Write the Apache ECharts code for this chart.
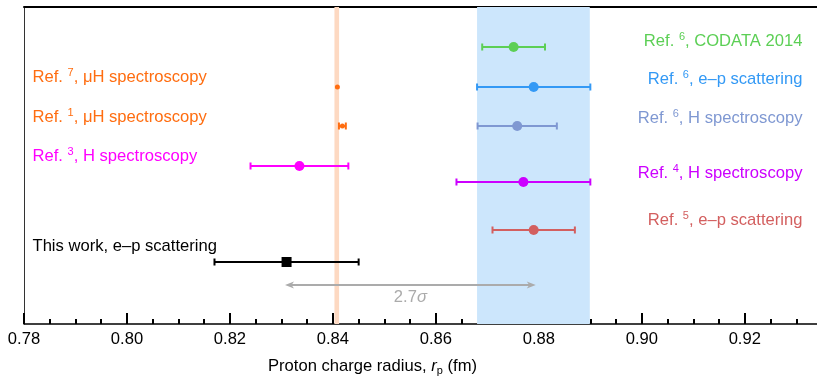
<!DOCTYPE html>
<html><head><meta charset="utf-8">
<script src="https://cdn.jsdelivr.net/npm/echarts@6/dist/echarts.min.js"></script>
<style>html,body{margin:0;padding:0;background:#fff}#c{width:817px;height:378px}</style>
</head><body><div id="c"></div>
<script>
const FONT = '"Liberation Sans", Arial, Helvetica, sans-serif';
const FS = 16.6;

// Measurements (proton charge radius, fm)
const measNames  = ['CODATA 2014', 'Ref6 e-p', 'Ref6 H', 'Ref7 muH', 'Ref1 muH', 'Ref3 H', 'Ref4 H', 'Ref5 e-p', 'This work'];
const measValues = [0.8751, 0.8790, 0.8758, 0.84087, 0.84184, 0.8335, 0.8770, 0.8790, 0.8310];
const measErrors = [0.0061, 0.0110, 0.0077, 0.00039, 0.00067, 0.0095, 0.0130, 0.0080, 0.0140];
const measRows   = [40, 80, 119, 80, 119, 159, 175, 223, 255];
const measColors = ['#5ccf55', '#3399f5', '#7f98d2', '#ff6d10', '#ff6d10', '#ff00ff', '#cc00ff', '#d35f5f', '#000000'];
const measShapes = ['circle', 'circle', 'circle', 'circle', 'circle', 'circle', 'circle', 'circle', 'square'];
const measSizes  = [5, 5, 5, 2.5, 2.5, 5, 5, 5, 5];

// Text labels
const labelTexts = [
  'Ref. {s|6}, CODATA 2014',
  'Ref. {s|6}, e–p scattering',
  'Ref. {s|6}, H spectroscopy',
  'Ref. {s|7}, μH spectroscopy',
  'Ref. {s|1}, μH spectroscopy',
  'Ref. {s|3}, H spectroscopy',
  'Ref. {s|4}, H spectroscopy',
  'Ref. {s|5}, e–p scattering',
  'This work, e–p scattering'
];
const labelX     = [0.9312, 0.9312, 0.9312, 0.78165, 0.78165, 0.78165, 0.9312, 0.9312, 0.78165];
const labelRows  = [34, 72, 111, 70, 110, 149, 166, 213, 239];
const labelAlign = ['right', 'right', 'right', 'left', 'left', 'left', 'right', 'right', 'left'];

// Bands
const bandRanges = [[0.8680, 0.8899], [0.8403, 0.8412]];
const bandColors = ['#cce6fc', '#fdd9c2'];

// 2.7 sigma arrow
const arrowFrom = 0.8307, arrowTo = 0.8794, arrowRow = 278, arrowLabelRow = 290;
const arrowText = '2.7{i|σ}';

const xMin = 0.78, xMax = 0.935, yMax = 317;

const chart = echarts.init(document.getElementById('c'), null, {renderer: 'canvas'});

const gridBox = {left: 24, width: 798, top: 7, height: 317, outerBoundsMode: 'none', containLabel: false};

const option = {
  animation: false,
  grid: [Object.assign({}, gridBox), Object.assign({}, gridBox)],
  xAxis: [
    {
      gridIndex: 0, type: 'value', min: xMin, max: xMax, interval: 0.02, position: 'bottom',
      axisLine: {show: true, onZero: false, lineStyle: {color: '#000', width: 1.5}},
      axisTick: {show: true, inside: true, length: 11, lineStyle: {color: '#000', width: 2}},
      axisLabel: {show: true, fontSize: FS, fontFamily: FONT, color: '#000', margin: 7,
                  showMaxLabel: false, formatter: v => v.toFixed(2)},
      splitLine: {show: false}
    },
    {
      gridIndex: 0, type: 'value', min: xMin, max: xMax, position: 'top',
      axisLine: {show: true, onZero: false, lineStyle: {color: '#000', width: 2}},
      axisTick: {show: false}, axisLabel: {show: false}, splitLine: {show: false}
    },
    {
      gridIndex: 1, type: 'value', min: xMin, max: xMax, interval: 0.005, position: 'bottom',
      axisLine: {show: false, onZero: false},
      axisTick: {show: true, inside: true, length: 5, lineStyle: {color: '#000', width: 2}},
      axisLabel: {show: false}, splitLine: {show: false}
    }
  ],
  yAxis: [
    {
      gridIndex: 0, type: 'value', min: 0, max: yMax, inverse: true,
      axisLine: {show: true, onZero: false, lineStyle: {color: '#333', width: 1}},
      axisTick: {show: false}, axisLabel: {show: false}, splitLine: {show: false}
    },
    {
      gridIndex: 1, type: 'value', min: 0, max: yMax, inverse: true, show: false
    }
  ],
  series: [
    {
      type: 'custom', xAxisIndex: 0, yAxisIndex: 0, z: 1, silent: true,
      data: bandRanges.map((b, i) => [b[0], b[1], i]),
      renderItem: (params, api) => {
        const i = api.value(2);
        const p0 = api.coord([api.value(0), 0]);
        const p1 = api.coord([api.value(1), yMax]);
        return {type: 'rect', shape: {x: p0[0], y: p0[1], width: p1[0] - p0[0], height: p1[1] - p0[1]},
                style: {fill: bandColors[i]}};
      }
    },
    {
      type: 'custom', xAxisIndex: 0, yAxisIndex: 0, z: 3, silent: true,
      data: [[arrowFrom, arrowTo, arrowRow, arrowLabelRow]],
      renderItem: (params, api) => {
        const a = api.coord([api.value(0), api.value(2)]);
        const b = api.coord([api.value(1), api.value(2)]);
        const t = api.coord([(api.value(0) + api.value(1)) / 2, api.value(3)]);
        const col = '#ababab';
        const y = a[1];
        return {type: 'group', children: [
          {type: 'line', shape: {x1: a[0] + 4, y1: y, x2: b[0] - 4, y2: y}, style: {stroke: col, lineWidth: 2}},
          {type: 'polygon', shape: {points: [[a[0], y], [a[0] + 9, y - 3.5], [a[0] + 6.5, y], [a[0] + 9, y + 3.5]]}, style: {fill: col}},
          {type: 'polygon', shape: {points: [[b[0], y], [b[0] - 9, y - 3.5], [b[0] - 6.5, y], [b[0] - 9, y + 3.5]]}, style: {fill: col}},
          {type: 'text', x: t[0], y: t[1], style: {text: arrowText, fill: col, fontSize: FS, fontFamily: FONT,
            align: 'center', verticalAlign: 'middle',
            rich: {i: {fontStyle: 'italic', fontSize: FS, fontFamily: FONT, fill: col}}}}
        ]};
      }
    },
    {
      type: 'custom', xAxisIndex: 0, yAxisIndex: 0, z: 5, silent: true,
      data: measValues.map((v, i) => [v, measErrors[i], measRows[i], i]),
      renderItem: (params, api) => {
        const v = api.value(0), e = api.value(1), r = api.value(2), i = api.value(3);
        const c = api.coord([v, r]);
        const lo = api.coord([v - e, r]);
        const hi = api.coord([v + e, r]);
        const col = measColors[i];
        const capH = 3.5;
        const s = measSizes[i];
        const ch = [];
        if (hi[0] - c[0] > s) {
          ch.push(
            {type: 'line', shape: {x1: lo[0], y1: c[1], x2: hi[0], y2: c[1]}, style: {stroke: col, lineWidth: 2}},
            {type: 'line', shape: {x1: lo[0], y1: c[1] - capH, x2: lo[0], y2: c[1] + capH}, style: {stroke: col, lineWidth: 2}},
            {type: 'line', shape: {x1: hi[0], y1: c[1] - capH, x2: hi[0], y2: c[1] + capH}, style: {stroke: col, lineWidth: 2}}
          );
        }
        if (measShapes[i] === 'square') {
          ch.push({type: 'rect', shape: {x: c[0] - s, y: c[1] - s, width: 2 * s, height: 2 * s}, style: {fill: col}});
        } else {
          ch.push({type: 'circle', shape: {cx: c[0], cy: c[1], r: s}, style: {fill: col}});
        }
        return {type: 'group', children: ch};
      }
    },
    {
      type: 'custom', xAxisIndex: 0, yAxisIndex: 0, z: 6, silent: true,
      data: labelTexts.map((t, i) => [labelX[i], labelRows[i], i]),
      renderItem: (params, api) => {
        const i = api.value(2);
        const c = api.coord([api.value(0), api.value(1)]);
        const col = measColors[i];
        return {type: 'text', x: c[0], y: c[1], style: {
          text: labelTexts[i], fill: col, fontSize: FS, fontFamily: FONT, lineHeight: 19,
          align: labelAlign[i], verticalAlign: 'middle',
          rich: {s: {fontSize: 11, fontFamily: FONT, fill: col, verticalAlign: 'top', lineHeight: 11}}
        }};
      }
    }
  ],
  graphic: [
    {
      type: 'text', left: 268, top: 357, z: 10,
      style: {
        text: 'Proton charge radius, {i|r}{sub|p} (fm)', fill: '#000', fontSize: FS, fontFamily: FONT, lineHeight: 19,
        rich: {
          i: {fontStyle: 'italic', fontSize: FS, fontFamily: FONT, fill: '#000', lineHeight: 19},
          sub: {fontSize: 11, fontFamily: FONT, fill: '#000', verticalAlign: 'bottom', lineHeight: 11}
        }
      }
    }
  ]
};
chart.setOption(option);
</script>
</body></html>
